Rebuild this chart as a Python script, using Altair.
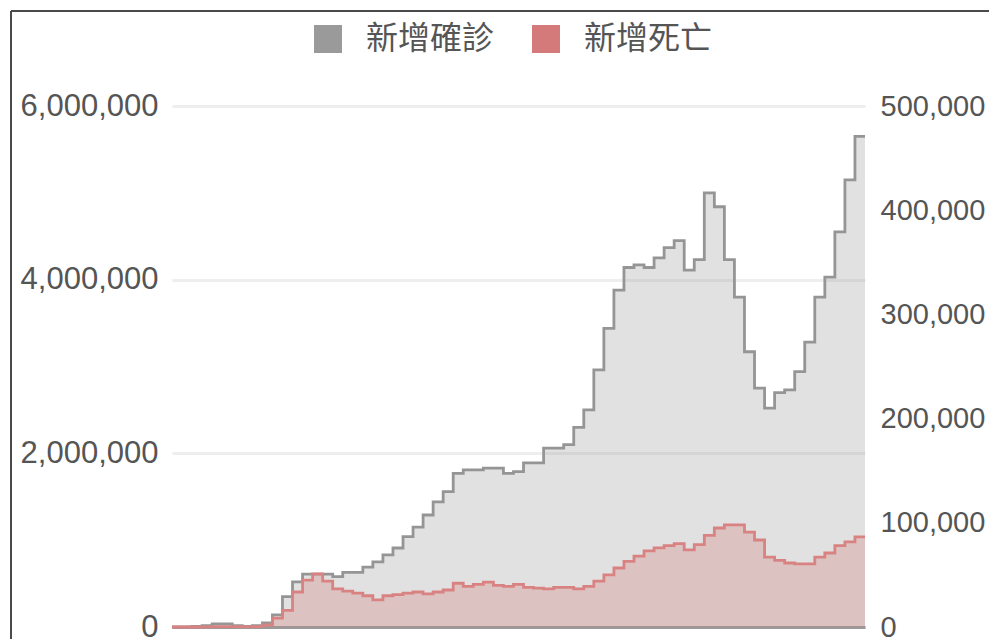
import altair as alt
import pandas as pd

# ---- data (weekly values) ----
weeks = list(range(70))
new_cases = [
    0, 2000, 8000, 15000, 35000, 35000, 15000, 8000, 15000, 46000,
    140000, 350000, 520000, 610000, 610000, 610000, 580000, 630000, 630000, 690000,
    750000, 830000, 910000, 1040000, 1150000, 1290000, 1440000, 1560000, 1770000, 1810000,
    1810000, 1830000, 1830000, 1770000, 1790000, 1890000, 1890000, 2060000, 2060000, 2100000,
    2300000, 2500000, 2960000, 3440000, 3880000, 4140000, 4170000, 4140000, 4250000, 4370000,
    4450000, 4110000, 4230000, 5000000, 4840000, 4230000, 3800000, 3170000, 2750000, 2520000,
    2700000, 2730000, 2940000, 3280000, 3800000, 4030000, 4550000, 5150000, 5650000, 5650000,
]
new_deaths = [
    0, 0, 0, 100, 300, 400, 300, 200, 300, 2000,
    8600, 16000, 33600, 45000, 51000, 44000, 36500, 34500, 32600, 30000,
    26000, 30000, 31000, 32600, 33600, 31700, 33600, 35500, 42000, 39000,
    41000, 43000, 40000, 39000, 41000, 38000, 37400, 36500, 38000, 38000,
    36500, 39000, 44000, 50000, 56600, 63000, 68000, 73000, 76000, 78000,
    80000, 74000, 79000, 88000, 95000, 98000, 98000, 91000, 83500, 67000,
    64000, 61400, 60500, 60500, 67000, 71000, 78000, 81600, 86400, 86400,
]
series_names = ["新增確診", "新增死亡"]
left_ticks = [0, 2000000, 4000000, 6000000]
right_ticks = [0, 100000, 200000, 300000, 400000, 500000]

df = pd.DataFrame({"week": weeks, "cases": new_cases, "deaths": new_deaths})

NUM_FONT = "Liberation Sans"
CJK_FONT = "Noto Sans CJK TC"

color_scale = alt.Scale(domain=series_names, range=["#9a9a9a", "#d47a7a"])
legend = alt.Legend(
    orient="none", legendX=140, legendY=-83, direction="horizontal", title=None,
    symbolType="square", symbolSize=784, symbolStrokeWidth=0, symbolOpacity=1,
    labelFont=CJK_FONT, labelFontSize=32, labelColor="#555555",
    labelOffset=22, columnPadding=35, padding=0,
)

x_enc = alt.X(
    "week:Q",
    scale=alt.Scale(domain=[0, 69], nice=False, zero=False),
    axis=alt.Axis(labels=False, ticks=False, grid=False, domain=True,
                  domainColor="#9a9a9a", domainWidth=3, title=None),
)

y_left = alt.Y(
    "cases:Q",
    scale=alt.Scale(domain=[0, 6000000], nice=False),
    axis=alt.Axis(orient="left", values=left_ticks, format=",d", title=None,
                  grid=True, gridColor="#eeeeee", gridWidth=3, ticks=False,
                  domain=False, labelPadding=14, labelFont=NUM_FONT,
                  labelFontSize=31, labelColor="#555555"),
)
y_right = alt.Y(
    "deaths:Q",
    scale=alt.Scale(domain=[0, 500000], nice=False),
    axis=alt.Axis(orient="right", values=right_ticks, format=",d", title=None,
                  grid=False, ticks=False, domain=False, labelPadding=15,
                  labelFont=NUM_FONT, labelFontSize=29, labelColor="#555555"),
)

color_enc = alt.Color("series:N", scale=color_scale, legend=legend)

base = alt.Chart(df)

cases_area = base.transform_calculate(series="'新增確診'").mark_area(
    interpolate="step-after", fillOpacity=0.3
).encode(x=x_enc, y=y_left, color=color_enc)
cases_line = base.mark_line(interpolate="step-after", color="#959595", strokeWidth=2.8).encode(
    x=x_enc, y=y_left,
)
deaths_area = base.transform_calculate(series="'新增死亡'").mark_area(
    interpolate="step-after", fillOpacity=0.3
).encode(x=x_enc, y=y_right, color=color_enc)
deaths_line = base.mark_line(interpolate="step-after", color="#d98282", strokeWidth=2.8).encode(
    x=x_enc, y=y_right,
)

# decorative frame around the picture
frame_df = pd.DataFrame({"k": [0]})
frame_left = alt.Chart(frame_df).mark_rule(color="#4a4a4a", strokeWidth=2).encode(
    x=alt.value(-161), y=alt.value(-95), y2=alt.value(540)
)
frame_top = alt.Chart(frame_df).mark_rule(color="#4a4a4a", strokeWidth=2).encode(
    x=alt.value(-161), x2=alt.value(830), y=alt.value(-95)
)

left_layer = alt.layer(cases_area, cases_line)
right_layer = alt.layer(deaths_area, deaths_line)

chart = (
    alt.layer(left_layer, right_layer, frame_left, frame_top)
    .resolve_scale(y="independent")
    .properties(
        width=693, height=521,
        autosize=alt.AutoSizeParams(type="none"),
        padding={"left": 164, "top": 98, "right": 124, "bottom": 12},
        background="white",
    )
    .configure_view(stroke=None)
)

chart.save("out.html", embed_options={"renderer": "svg", "actions": False})
